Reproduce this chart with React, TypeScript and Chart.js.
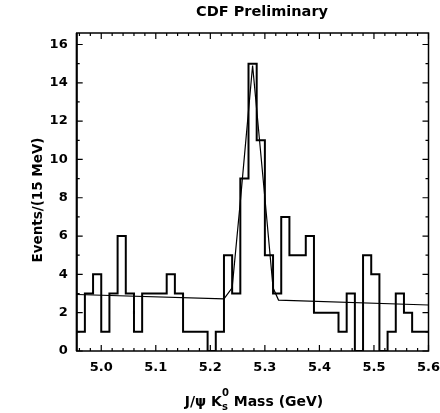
import React, { useEffect, useRef } from "react";
import { Chart, registerables } from "chart.js";

Chart.register(...registerables);

// ---- data ----
const binLow = 4.955; // GeV, first bin edge
const binWidth = 0.015; // GeV (15 MeV)
const counts = [
  1, 3, 4, 1, 3, 6, 3, 1, 3, 3, 3, 4, 3, 1, 1, 1, 0, 1, 5, 3, 9, 15, 11, 5, 3,
  7, 5, 5, 6, 2, 2, 2, 1, 3, 0, 5, 4, 0, 1, 3, 2, 1, 1,
];
const fitMass = [4.955, 5.225, 5.24, 5.255, 5.2775, 5.3, 5.315, 5.325, 5.6];
const fitValue = [2.95, 2.72, 3.3, 7.8, 14.9, 8.0, 3.3, 2.66, 2.4];

const xTicks = [5.0, 5.1, 5.2, 5.3, 5.4, 5.5, 5.6];
const xTickLabels = ["5.0", "5.1", "5.2", "5.3", "5.4", "5.5", "5.6"];
const yTicks = [0, 2, 4, 6, 8, 10, 12, 14, 16];
const yTickLabels = ["0", "2", "4", "6", "8", "10", "12", "14", "16"];
const xMin = 4.955;
const xMax = 5.6;
const yMin = 0;
const yMax = 16.6;

const titleText = "CDF Preliminary";
const yTitleText = "Events/(15 MeV)";
const xTitleMain = "J/\u03c8 K";
const xTitleSup = "0";
const xTitleSub = "s";
const xTitleRest = " Mass (GeV)";

const FONT = "'DejaVu Sans', sans-serif";

const framePlugin = {
  id: "frameTicks",
  afterDraw(chart: any) {
    const { ctx, chartArea, scales } = chart;
    const { left, right, top, bottom } = chartArea;
    const x = scales.x;
    const y = scales.y;
    ctx.save();
    ctx.strokeStyle = "#000";
    ctx.lineWidth = 1.5;
    ctx.strokeRect(left, top, right - left, bottom - top);
    ctx.lineWidth = 2;
    ctx.beginPath();
    ctx.moveTo(left, top);
    ctx.lineTo(left, bottom);
    ctx.stroke();

    ctx.lineWidth = 1.2;
    ctx.beginPath();
    for (let i = 0; i <= 32; i++) {
      const v = 4.96 + i * 0.02;
      if (v > xMax + 1e-9) break;
      const px = x.getPixelForValue(v);
      const major = Math.abs(v * 10 - Math.round(v * 10)) < 1e-6;
      const len = major ? 6 : 3;
      ctx.moveTo(px, bottom);
      ctx.lineTo(px, bottom - len);
      ctx.moveTo(px, top);
      ctx.lineTo(px, top + len);
    }
    for (let v = 0; v <= 16; v += 1) {
      const py = y.getPixelForValue(v);
      const len = v % 2 === 0 ? 6 : 3;
      ctx.moveTo(left, py);
      ctx.lineTo(left + len, py);
      ctx.moveTo(right, py);
      ctx.lineTo(right - len, py);
    }
    ctx.stroke();

    ctx.fillStyle = "#000";
    ctx.textBaseline = "alphabetic";
    ctx.font = `bold 14.5px ${FONT}`;
    ctx.textAlign = "center";
    ctx.fillText(titleText, 262, 16);

    ctx.save();
    ctx.translate(42, 200);
    ctx.rotate(-Math.PI / 2);
    ctx.font = `bold 13.5px ${FONT}`;
    ctx.textAlign = "center";
    ctx.fillText(yTitleText, 0, 0);
    ctx.restore();

    ctx.textAlign = "left";
    const mainFont = `bold 14px ${FONT}`;
    const smallFont = `bold 10px ${FONT}`;
    ctx.font = mainFont;
    const w1 = ctx.measureText(xTitleMain).width;
    const w3 = ctx.measureText(xTitleRest).width;
    ctx.font = smallFont;
    const w2 = Math.max(
      ctx.measureText(xTitleSup).width,
      ctx.measureText(xTitleSub).width
    );
    const total = w1 + w2 + w3;
    const cx = 254;
    const base = 406;
    let px = cx - total / 2;
    ctx.font = mainFont;
    ctx.fillText(xTitleMain, px, base);
    px += w1;
    ctx.font = smallFont;
    ctx.fillText(xTitleSup, px, base - 10);
    ctx.fillText(xTitleSub, px, base + 4);
    px += w2;
    ctx.font = mainFont;
    ctx.fillText(xTitleRest, px, base);
    ctx.restore();
  },
};

export default function App() {
  const ref = useRef<HTMLCanvasElement | null>(null);

  useEffect(() => {
    if (!ref.current) return;
    const histData = counts.map((c, k) => ({ x: binLow + k * binWidth, y: c }));
    histData.push({ x: xMax, y: counts[counts.length - 1] });
    const fitData = fitMass.map((m, i) => ({ x: m, y: fitValue[i] }));

    const chart = new Chart(ref.current, {
      type: "line",
      data: {
        datasets: [
          {
            label: "Data",
            data: histData,
            stepped: "before",
            borderColor: "#000",
            borderWidth: 2,
            pointRadius: 0,
            fill: false,
          } as any,
          {
            label: "Fit",
            data: fitData,
            borderColor: "#000",
            borderWidth: 1.2,
            pointRadius: 0,
            tension: 0,
            fill: false,
          },
        ],
      },
      options: {
        animation: false,
        responsive: false,
        devicePixelRatio: 1,
        layout: { padding: { left: 0, right: 11.5, top: 33, bottom: 0 } },
        plugins: {
          legend: { display: false },
          title: { display: false },
          tooltip: { enabled: false },
        },
        scales: {
          x: {
            type: "linear",
            min: xMin,
            max: xMax,
            grid: { display: false, drawTicks: false },
            border: { display: false },
            afterBuildTicks: (scale: any) => {
              scale.ticks = xTicks.map((v) => ({ value: v }));
            },
            afterFit: (scale: any) => {
              scale.height = 62;
              scale.paddingLeft = 0;
              scale.paddingRight = 0;
            },
            ticks: {
              padding: 9,
              color: "#000",
              maxRotation: 0,
              autoSkip: false,
              font: { family: FONT, size: 13, weight: "bold" },
              callback: (v: any) => {
                const i = xTicks.findIndex((t) => Math.abs(t - Number(v)) < 1e-6);
                return i >= 0 ? xTickLabels[i] : "";
              },
            },
          },
          y: {
            type: "linear",
            min: yMin,
            max: yMax,
            grid: { display: false, drawTicks: false },
            border: { display: false },
            afterBuildTicks: (scale: any) => {
              scale.ticks = yTicks.map((v) => ({ value: v }));
            },
            afterFit: (scale: any) => {
              scale.width = 76.7;
              scale.paddingTop = 0;
              scale.paddingBottom = 0;
            },
            ticks: {
              padding: 9,
              color: "#000",
              autoSkip: false,
              font: { family: FONT, size: 13, weight: "bold" },
              callback: (v: any) => {
                const i = yTicks.findIndex((t) => Math.abs(t - Number(v)) < 1e-6);
                return i >= 0 ? yTickLabels[i] : "";
              },
            },
          },
        },
      },
      plugins: [framePlugin],
    });
    return () => chart.destroy();
  }, []);

  return (
    <div style={{ position: "absolute", left: 0, top: 0, width: 440, height: 413, background: "#fff" }}>
      <canvas ref={ref} width={440} height={413} style={{ display: "block" }} />
    </div>
  );
}
